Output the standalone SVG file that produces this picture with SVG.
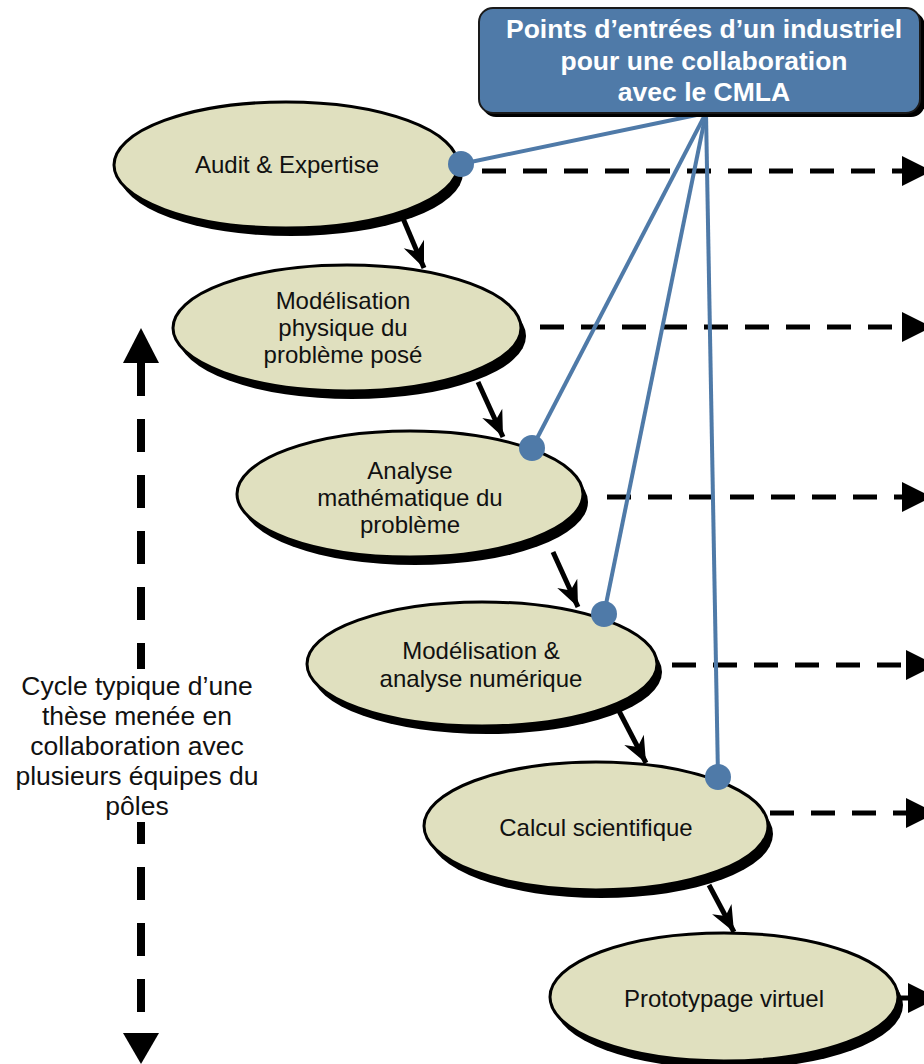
<svg xmlns="http://www.w3.org/2000/svg" width="924" height="1064" viewBox="0 0 924 1064">
<style>
.ell{fill:#e0e0bf;stroke:#000;stroke-width:3}
.sh{fill:#000}
.t{font-family:"Liberation Sans",Arial,sans-serif;font-size:24px;fill:#111;text-anchor:middle}
.tl{font-family:"Liberation Sans",Arial,sans-serif;font-size:26.5px;fill:#111;text-anchor:middle}
.tb{font-family:"Liberation Sans",Arial,sans-serif;font-size:26.5px;font-weight:bold;fill:#fff;text-anchor:middle}
.dash{stroke:#000;stroke-width:5;stroke-dasharray:24 17;fill:none}
.flow{stroke:#000;stroke-width:5;fill:none}
.blue{stroke:#4f7aa8;stroke-width:4;fill:none}
.dot{fill:#4f7aa8}
.head{fill:#000}
</style>
<defs>
<marker id="chev" viewBox="-28 -12 30 24" refX="0" refY="0" markerWidth="30" markerHeight="24" markerUnits="userSpaceOnUse" orient="auto">
<path d="M0,0 L-26,-11 L-18,0 L-26,11 Z" fill="#000"/>
</marker>
</defs>
<rect width="924" height="1064" fill="#fff"/>

<g id="cycle-arrow">
<line x1="141" y1="363" x2="141" y2="1033" stroke="#000" stroke-width="8" stroke-dasharray="33 23"/>
<polygon class="head" points="141,328 123,363 159,363"/>
<polygon class="head" points="141,1064 123,1033 159,1033"/>
<rect x="8" y="669" width="264" height="153" fill="#fff"/>
<text class="tl"><tspan x="137" y="695">Cycle typique d’une</tspan><tspan x="137" y="725">thèse menée en</tspan><tspan x="137" y="755">collaboration avec</tspan><tspan x="137" y="785">plusieurs équipes du</tspan><tspan x="137" y="815">pôles</tspan></text>
</g>

<g id="connectors">
<line class="dash" x1="482" y1="171" x2="902" y2="171"/>
<polygon class="head" points="902,156 932,171 902,186"/>
<line class="dash" x1="540" y1="327" x2="902" y2="327"/>
<polygon class="head" points="902,312 932,327 902,342"/>
<line class="dash" x1="607" y1="497" x2="902" y2="497"/>
<polygon class="head" points="902,482 932,497 902,512"/>
<line class="dash" x1="672" y1="665" x2="906" y2="665"/>
<polygon class="head" points="906,650 936,665 906,680"/>
<line class="dash" x1="770" y1="813" x2="906" y2="813"/>
<polygon class="head" points="906,798 936,813 906,828"/>
<line class="flow" x1="897" y1="998" x2="908" y2="998"/>
<polygon class="head" points="908,983 938,998 908,1013"/>

<line class="flow" x1="402" y1="216" x2="424" y2="268" marker-end="url(#chev)"/>
<line class="flow" x1="478" y1="382" x2="503" y2="437" marker-end="url(#chev)"/>
<line class="flow" x1="553" y1="552" x2="578" y2="607" marker-end="url(#chev)"/>
<line class="flow" x1="619" y1="711" x2="646" y2="763" marker-end="url(#chev)"/>
<line class="flow" x1="709" y1="885" x2="734" y2="932" marker-end="url(#chev)"/>
</g>

<g id="n1">
<ellipse class="sh" cx="291" cy="173" rx="172" ry="63"/>
<ellipse class="ell" cx="286" cy="165" rx="172" ry="63"/>
<text class="t" x="287" y="173">Audit &amp; Expertise</text>
</g>
<g id="n2">
<ellipse class="sh" cx="352" cy="336" rx="174" ry="63"/>
<ellipse class="ell" cx="347" cy="328" rx="174" ry="63"/>
<text class="t"><tspan x="343" y="309">Modélisation</tspan><tspan x="343" y="336">physique du</tspan><tspan x="343" y="363">problème posé</tspan></text>
</g>
<g id="n3">
<ellipse class="sh" cx="415" cy="502" rx="173" ry="63"/>
<ellipse class="ell" cx="410" cy="494" rx="173" ry="63"/>
<text class="t"><tspan x="410" y="479">Analyse</tspan><tspan x="410" y="506">mathématique du</tspan><tspan x="410" y="533">problème</tspan></text>
</g>
<g id="n4">
<ellipse class="sh" cx="487" cy="672" rx="175" ry="62"/>
<ellipse class="ell" cx="482" cy="664" rx="175" ry="62"/>
<text class="t"><tspan x="481" y="659">Modélisation &amp;</tspan><tspan x="481" y="687">analyse numérique</tspan></text>
</g>
<g id="n5">
<ellipse class="sh" cx="601" cy="834" rx="172" ry="64"/>
<ellipse class="ell" cx="596" cy="826" rx="172" ry="64"/>
<text class="t" x="596" y="836">Calcul scientifique</text>
</g>
<g id="n6">
<ellipse class="sh" cx="729" cy="1005" rx="174" ry="64"/>
<ellipse class="ell" cx="724" cy="997" rx="174" ry="64"/>
<text class="t" x="724" y="1007">Prototypage virtuel</text>
</g>

<g id="entry-links">
<line class="blue" x1="706" y1="113" x2="461" y2="164"/>
<line class="blue" x1="706" y1="113" x2="532" y2="448"/>
<line class="blue" x1="706" y1="113" x2="604" y2="614"/>
<line class="blue" x1="706" y1="113" x2="718" y2="777"/>
<circle class="dot" cx="461" cy="164" r="13"/>
<circle class="dot" cx="532" cy="448" r="13"/>
<circle class="dot" cx="604" cy="614" r="13"/>
<circle class="dot" cx="718" cy="777" r="13"/>
</g>

<g id="entry-box">
<rect x="482" y="12" width="443" height="105" rx="14" fill="#000"/>
<rect x="479" y="8" width="441" height="105" rx="14" fill="#4f7aa8" stroke="#1a1a1a" stroke-width="2"/>
<text class="tb"><tspan x="704" y="38">Points d’entrées d’un industriel</tspan><tspan x="704" y="70">pour une collaboration</tspan><tspan x="704" y="101">avec le CMLA</tspan></text>
</g>
</svg>
